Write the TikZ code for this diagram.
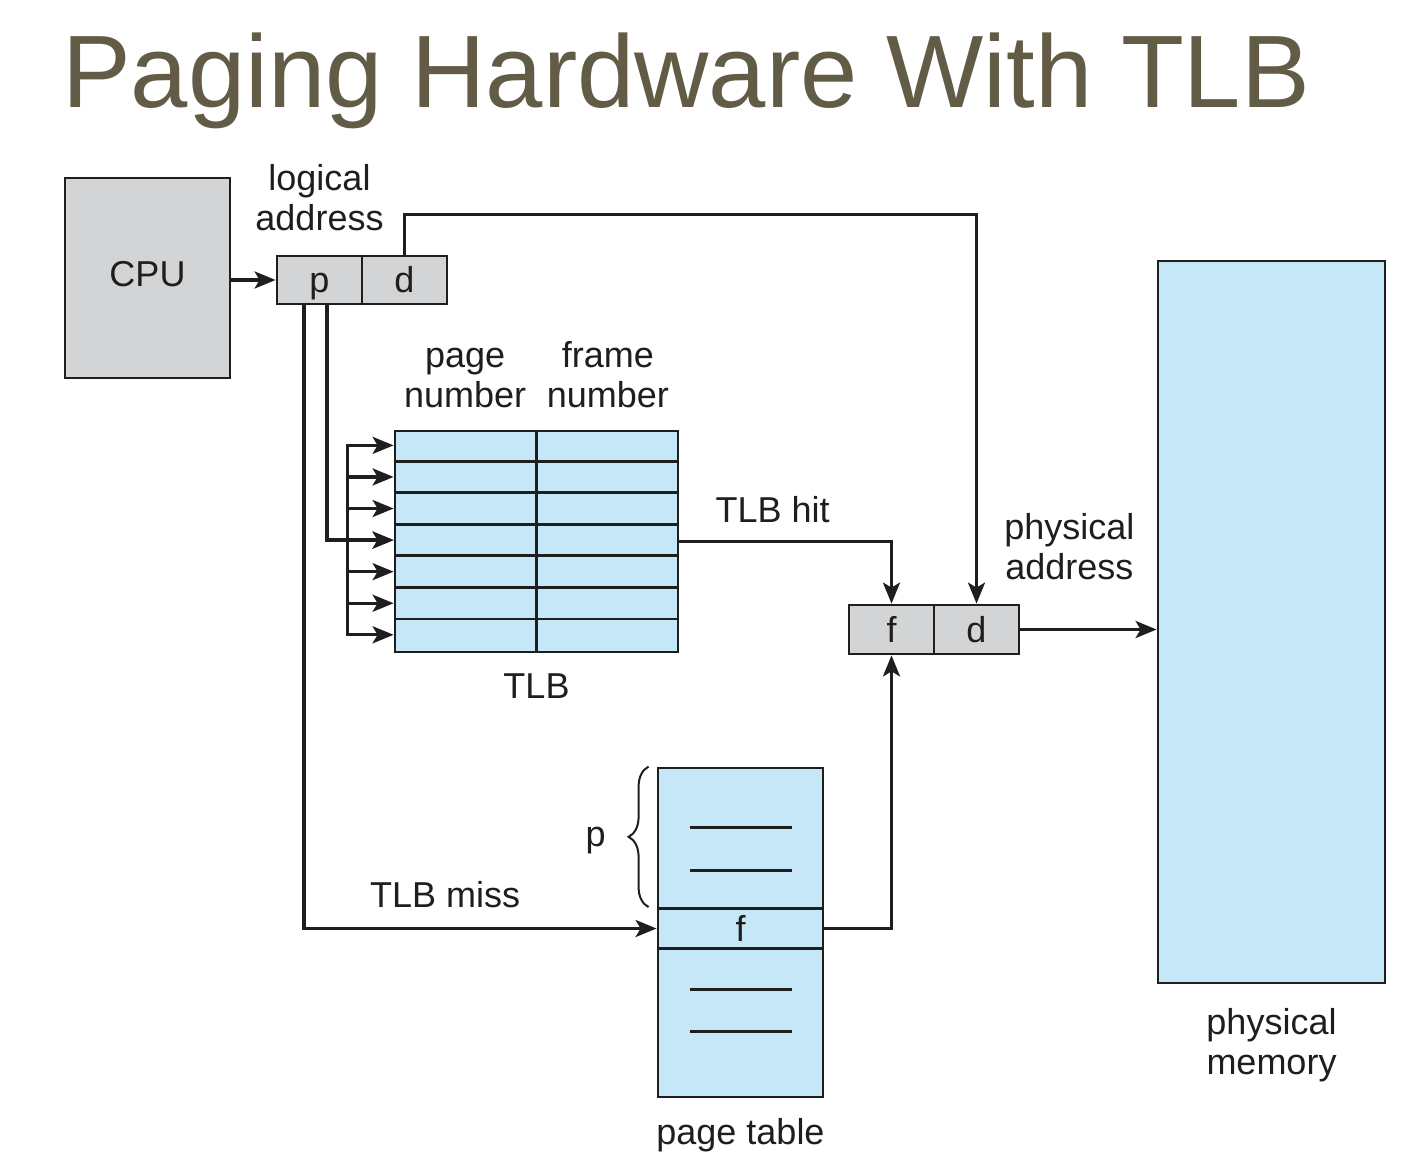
\documentclass[tikz,border=0pt]{standalone}
\usepackage{fontspec}
\setmainfont{Liberation Sans}
\usetikzlibrary{positioning}
\usetikzlibrary{calc}
\usetikzlibrary{arrows.meta}
\usetikzlibrary{decorations.pathreplacing}
\definecolor{titlecol}{RGB}{98,91,70}
\definecolor{boxgray}{RGB}{211,212,213}
\definecolor{memblue}{RGB}{198,231,248}
\definecolor{ink}{RGB}{30,30,30}

\begin{document}
\begin{tikzpicture}[x=1pt, y=-1pt,
    box/.style={draw=ink, line width=2.8pt, inner sep=0pt, text=ink, text height=26pt, text depth=0pt, font=\fontsize{36}{40}\selectfont},
    greybox/.style={box, fill=boxgray},
    bluebox/.style={box, fill=memblue},
    lbl/.style={inner sep=0pt, text=ink, align=center, font=\fontsize{36}{40}\selectfont},
    wire/.style={draw=ink, line width=3.2pt},
    pil/.style={wire, -{Stealth[length=21pt, width=17pt, inset=5pt]}}]
        \useasboundingbox (0,0) rectangle (1409,1174);
        % title %
        \node[anchor=base west, inner sep=0pt, text=titlecol, font=\fontsize{103}{110}\selectfont] (title) at (62,108) {Paging Hardware With TLB};
        % nodes %
        \node[greybox, minimum width=165pt, minimum height=200pt, text depth=8pt] (cpu) at (147.5,278) {CPU};
        \node[greybox, minimum width=85pt, minimum height=48pt] (p) at (319.5,280) {p};
        \node[greybox, minimum width=85pt, minimum height=48pt, right=-2.8pt of p] (d) {d};
        \node[lbl, above=24pt of p] (la) {logical\\address};
        \node[bluebox, minimum width=283pt, minimum height=221pt] (tlb) at (536.5,541.5) {};
        \node[lbl, below=20pt of tlb] (tlblbl) {TLB};
        \coordinate (c1) at ($(tlb.north west)!0.25!(tlb.north east)$);
        \coordinate (c2) at ($(tlb.north west)!0.75!(tlb.north east)$);
        \node[lbl, above=22pt of c1] (pn) {page\\number};
        \node[lbl, above=22pt of c2] (fn) {frame\\number};
        \node[greybox, minimum width=85pt, minimum height=49pt] (pf) at (891.5,629.5) {f};
        \node[greybox, minimum width=85pt, minimum height=49pt, right=-2.8pt of pf] (pd) {d};
        \node[lbl, above=24pt of pd.north east, xshift=49pt] (pa) {physical\\address};
        \node[bluebox, minimum width=227pt, minimum height=722pt] (mem) at (1271.5,622) {};
        \node[lbl, below=24pt of mem] (memlbl) {physical\\memory};
        \node[bluebox, minimum width=165pt, minimum height=329pt] (pt) at (740.5,932.5) {};
        \node[bluebox, minimum width=165pt, minimum height=40pt] (ptf) at (740.5,928.5) {f};
        \node[lbl, below=20pt of pt] (ptlbl) {page table};
        % table lines %
        \draw[wire, line width=2.8pt] (tlb.north) -- (tlb.south);
        \foreach \i in {1,...,6}
            \draw[wire, line width=2.8pt] ($(tlb.north west)+(0,\i*31.57)$) -- ($(tlb.north east)+(0,\i*31.57)$);
        \foreach \off in {61,104,223,265}
            \draw[wire, line width=2.8pt] ($(pt.north)+(-51,\off)$) -- ++(102,0);
        % edges %
        \coordinate (bus) at ($(tlb.west)+(-46,0)$);
        \foreach \i in {1,...,7}
            \coordinate (r\i) at ($(tlb.north west)+(0,{(\i-0.5)*31.57})$);
        \draw[wire, line cap=rect] (r1 -| bus) -- (r7 -| bus);
        \foreach \i in {1,...,7}
            \draw[pil] (r\i -| bus) -- (r\i);
        \coordinate (pl) at ([xshift=-15.5pt]p.south);
        \coordinate (pr) at ([xshift=7.5pt]p.south);
        \draw[pil] (cpu.east |- p.west) -- (p.west);
        \draw[pil] (pr) |- (r4);
        \draw[pil] (d.north) -- ++(0,-40) -| (pd.north);
        \draw[pil] (tlb.east) -| node[lbl, pos=0.22, above=17pt] {TLB hit} (pf.north);
        \draw[pil] (pl) |- node[lbl, pos=0.70, above=19pt] {TLB miss} (ptf.west);
        \draw[pil] (ptf.east) -| (pf.south);
        \draw[pil] (pd.east) -- (pd.east -| mem.west);
        \coordinate (bb) at ([xshift=-8pt]ptf.north west);
        \coordinate (bt) at ([xshift=-8pt]pt.north west);
        \draw[ink, line width=2pt, decorate, decoration={brace, amplitude=20pt}] (bb) -- node[lbl, left=42pt, yshift=-4pt] {p} (bt);
\end{tikzpicture}
\end{document}
